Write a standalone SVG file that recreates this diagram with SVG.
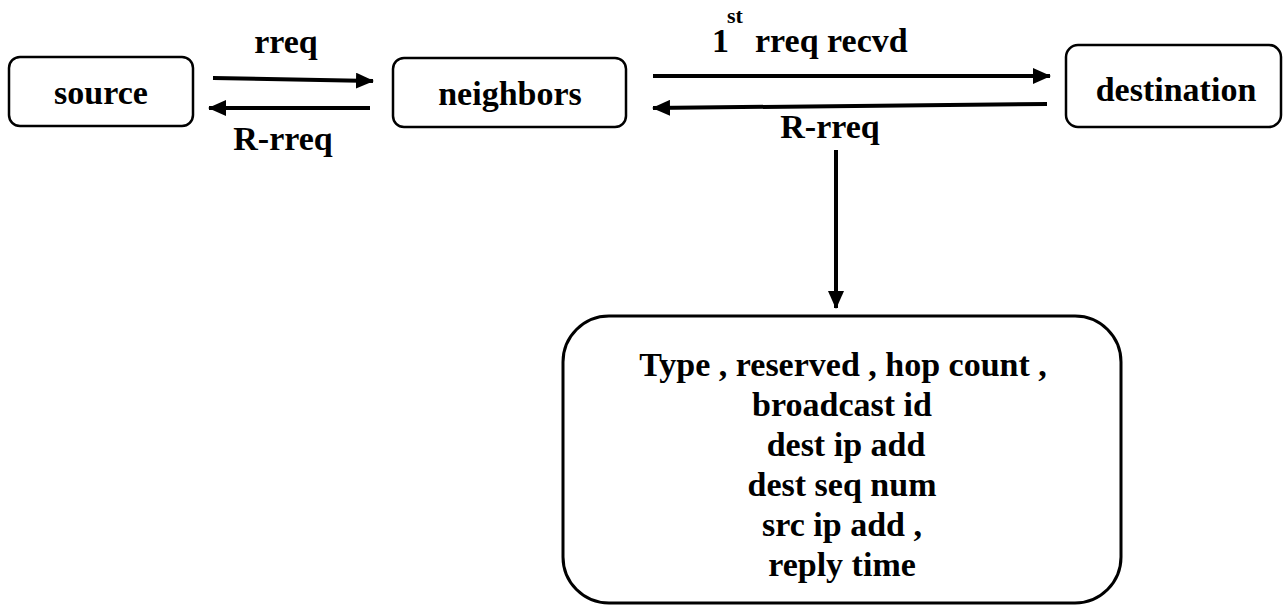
<svg xmlns="http://www.w3.org/2000/svg" width="1285" height="605" viewBox="0 0 1285 605">
  <defs>
    <marker id="arrow" markerUnits="userSpaceOnUse" markerWidth="18" markerHeight="16" refX="17" refY="8" orient="auto">
      <path d="M0,0 L18,8 L0,16 Z" fill="#000"/>
    </marker>
    <style>
      .box { fill: #fff; stroke: #000; stroke-width: 2.5; }
      .big { fill: #fff; stroke: #000; stroke-width: 3; }
      .wire { stroke: #000; stroke-width: 4; fill: none; marker-end: url(#arrow); }
    </style>
  </defs>
  <rect width="1285" height="605" fill="#fff"/>

  <!-- all labels: bold Times-metric serif -->
  <g font-family="'Liberation Serif', serif" font-weight="bold" font-size="34" fill="#000">
    <g id="connectors">
      <line class="wire" x1="213" y1="78" x2="373" y2="81"/>
      <line class="wire" x1="370" y1="108" x2="209" y2="108"/>
      <line class="wire" x1="653" y1="76" x2="1050" y2="76"/>
      <line class="wire" x1="1047" y1="104" x2="653" y2="108"/>
      <line class="wire" x1="836" y1="150" x2="836" y2="308"/>
      <text text-anchor="middle" x="286" y="53">rreq</text>
      <text text-anchor="middle" x="283" y="150">R-rreq</text>
      <text x="712" y="52">1</text>
      <text x="727" y="23" font-size="22">st</text>
      <text x="755" y="52">rreq recvd</text>
      <text text-anchor="middle" x="830" y="138">R-rreq</text>
    </g>

    <g id="source">
      <rect class="box" x="9" y="57" width="184" height="69" rx="11"/>
      <text text-anchor="middle" x="101" y="104">source</text>
    </g>

    <g id="neighbors">
      <rect class="box" x="393" y="58" width="233" height="69" rx="11"/>
      <text text-anchor="middle" x="510" y="105">neighbors</text>
    </g>

    <g id="destination">
      <rect class="box" x="1066" y="45" width="215" height="82" rx="12"/>
      <text text-anchor="middle" x="1176" y="101">destination</text>
    </g>

    <g id="rreq-fields" text-anchor="middle">
      <rect class="big" x="563" y="316" width="558" height="287" rx="46"/>
      <text x="843" y="376">Type , reserved , hop count ,</text>
      <text x="842" y="416">broadcast id</text>
      <text x="846" y="456">dest ip add</text>
      <text x="842" y="496">dest seq num</text>
      <text x="842" y="536">src ip add ,</text>
      <text x="842" y="576">reply time</text>
    </g>
  </g>
</svg>
